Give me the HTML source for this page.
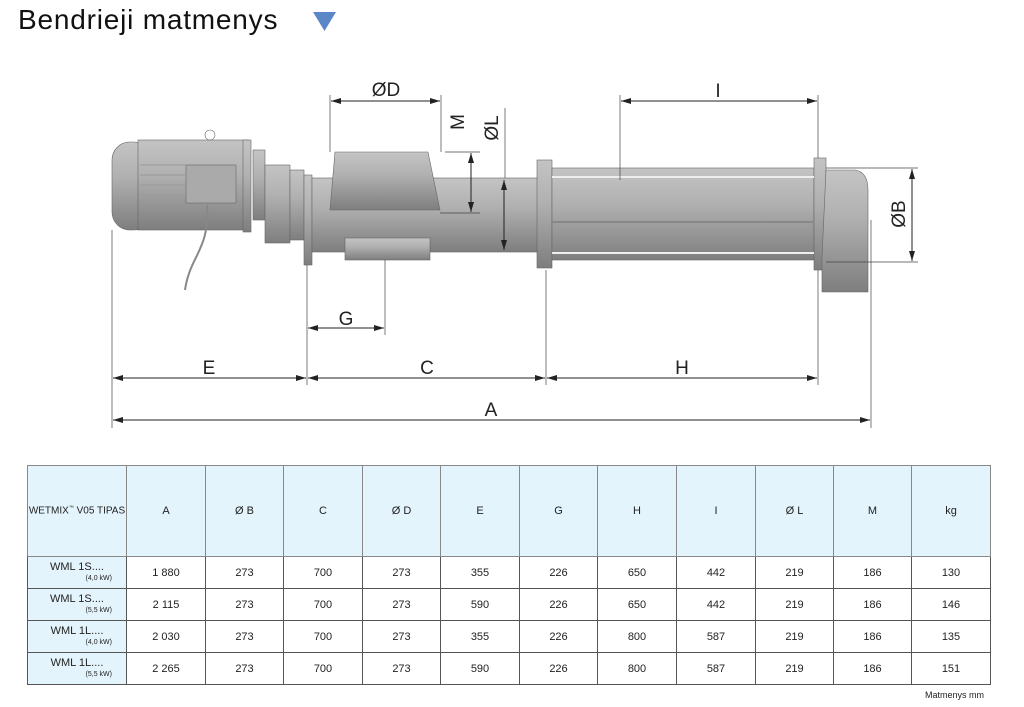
<!DOCTYPE html>
<html><head><meta charset="utf-8"><style>
body{margin:0;background:#fff;width:1024px;height:707px;overflow:hidden;position:relative;font-family:"Liberation Sans",sans-serif}
.t{position:absolute;left:18px;top:4px;font-size:28px;letter-spacing:0.8px;color:#111;font-family:"Liberation Sans",sans-serif}
table{position:absolute;left:27px;top:465px;border-collapse:collapse;font-size:11px;color:#222}
td{border:1px solid #555;text-align:center;padding:0;height:31px}
tr.h td{height:90px;background:#e3f4fc;border-color:#888}
td.n{background:#e3f4fc;line-height:11px}
td.n small{display:block;font-size:7px;text-align:right;padding-right:14px}
.mm{position:absolute;left:925px;top:690px;font-size:9px;color:#222}
</style></head><body>
<div class="t">Bendrieji matmenys</div>
<svg width="1024" height="460" style="position:absolute;left:0;top:0" font-family="Liberation Sans, sans-serif">
<defs><marker id="a" markerWidth="10" markerHeight="6" refX="10" refY="3" orient="auto-start-reverse"><path d="M0,0L10,3L0,6z" fill="#222"/></marker>
<linearGradient id="g" x1="0" y1="0" x2="0" y2="1"><stop offset="0" stop-color="#c4c4c4"/><stop offset=".4" stop-color="#b0b0b0"/><stop offset="1" stop-color="#7e7e7e"/></linearGradient></defs>
<polygon points="313,12 336,12 324.5,31" fill="#5b86c8"/>
<!-- machine -->
<g fill="url(#g)" stroke="#666" stroke-width=".6">
<rect x="112" y="142" width="40" height="88" rx="18"/>
<rect x="138" y="140" width="110" height="90"/>
<rect x="186" y="165" width="50" height="38" fill="#aaa"/>
<circle cx="210" cy="135" r="5" fill="none"/>
<rect x="243" y="140" width="8" height="92"/>
<rect x="253" y="150" width="12" height="70"/>
<rect x="265" y="165" width="25" height="78"/>
<rect x="290" y="170" width="14" height="70"/>
<rect x="304" y="175" width="8" height="90"/>
<rect x="312" y="178" width="235" height="74"/>
<path d="M335 152 L428 152 L440 210 L330 210z"/>
<rect x="345" y="238" width="85" height="22"/>
<rect x="537" y="160" width="15" height="108"/>
<rect x="552" y="168" width="262" height="92"/>
<rect x="814" y="158" width="12" height="112"/>
<path d="M826 170 L855 170 Q868 172 868 190 L868 292 L822 292 L822 258z"/>
</g>
<g stroke="#eee" stroke-width="2"><line x1="552" y1="177" x2="814" y2="177"/><line x1="552" y1="253" x2="814" y2="253"/><line x1="552" y1="222" x2="814" y2="222" stroke="#888"/></g>
<g stroke="#999" stroke-width="1"><line x1="140" y1="165" x2="186" y2="165"/><line x1="140" y1="175" x2="186" y2="175"/><line x1="140" y1="185" x2="186" y2="185"/><line x1="140" y1="195" x2="186" y2="195"/></g>
<path d="M207 205 C210 250 190 255 185 290" stroke="#888" fill="none" stroke-width="2"/>
<!-- extension lines -->
<g stroke="#444" stroke-width=".7">
<line x1="112" y1="230" x2="112" y2="428"/><line x1="307" y1="265" x2="307" y2="385"/>
<line x1="546" y1="270" x2="546" y2="385"/><line x1="818" y1="270" x2="818" y2="385"/>
<line x1="871" y1="220" x2="871" y2="428"/><line x1="385" y1="260" x2="385" y2="335"/>
<line x1="330" y1="95" x2="330" y2="152"/><line x1="441" y1="95" x2="441" y2="152"/>
<line x1="620" y1="95" x2="620" y2="180"/><line x1="818" y1="95" x2="818" y2="158"/>
<line x1="445" y1="152" x2="480" y2="152"/><line x1="440" y1="213" x2="480" y2="213"/>
<line x1="826" y1="168" x2="918" y2="168"/><line x1="826" y1="262" x2="918" y2="262"/>
<line x1="505" y1="108" x2="505" y2="178"/>
</g>
<g stroke="#222" stroke-width="1" marker-start="url(#a)" marker-end="url(#a)">
<line x1="113" y1="378" x2="306" y2="378"/><line x1="308" y1="378" x2="545" y2="378"/>
<line x1="547" y1="378" x2="817" y2="378"/><line x1="113" y1="420" x2="870" y2="420"/>
<line x1="308" y1="328" x2="384" y2="328"/><line x1="331" y1="101" x2="440" y2="101"/>
<line x1="621" y1="101" x2="817" y2="101"/><line x1="912" y1="169" x2="912" y2="261"/>
<line x1="471" y1="153" x2="471" y2="212"/><line x1="504" y1="180" x2="504" y2="250"/>
</g>
<g font-size="19" fill="#222" text-anchor="middle">
<text x="209" y="374">E</text><text x="427" y="374">C</text><text x="682" y="374">H</text>
<text x="491" y="416">A</text><text x="346" y="325">G</text><text x="386" y="96">ØD</text>
<text x="718" y="97">I</text>
<text transform="translate(464,122) rotate(-90)">M</text>
<text transform="translate(498,128) rotate(-90)">ØL</text>
<text transform="translate(905,214) rotate(-90)">ØB</text>
</g>
</svg>
<table>
<tr class="h"><td style="width:98px;font-size:10px">WETMIX<sup style="font-size:5px">™</sup> V05 TIPAS</td><td style="width:78px">A</td><td style="width:77px">Ø B</td><td style="width:78px">C</td><td style="width:77px">Ø D</td><td style="width:78px">E</td><td style="width:77px">G</td><td style="width:78px">H</td><td style="width:78px">I</td><td style="width:77px">Ø L</td><td style="width:77px">M</td><td style="width:78px">kg</td></tr>
<tr><td class="n">WML 1S....<small>(4,0 kW)</small></td><td>1 880</td><td>273</td><td>700</td><td>273</td><td>355</td><td>226</td><td>650</td><td>442</td><td>219</td><td>186</td><td>130</td></tr>
<tr><td class="n">WML 1S....<small>(5,5 kW)</small></td><td>2 115</td><td>273</td><td>700</td><td>273</td><td>590</td><td>226</td><td>650</td><td>442</td><td>219</td><td>186</td><td>146</td></tr>
<tr><td class="n">WML 1L....<small>(4,0 kW)</small></td><td>2 030</td><td>273</td><td>700</td><td>273</td><td>355</td><td>226</td><td>800</td><td>587</td><td>219</td><td>186</td><td>135</td></tr>
<tr><td class="n">WML 1L....<small>(5,5 kW)</small></td><td>2 265</td><td>273</td><td>700</td><td>273</td><td>590</td><td>226</td><td>800</td><td>587</td><td>219</td><td>186</td><td>151</td></tr>
</table>
<div class="mm">Matmenys mm</div>
</body></html>
